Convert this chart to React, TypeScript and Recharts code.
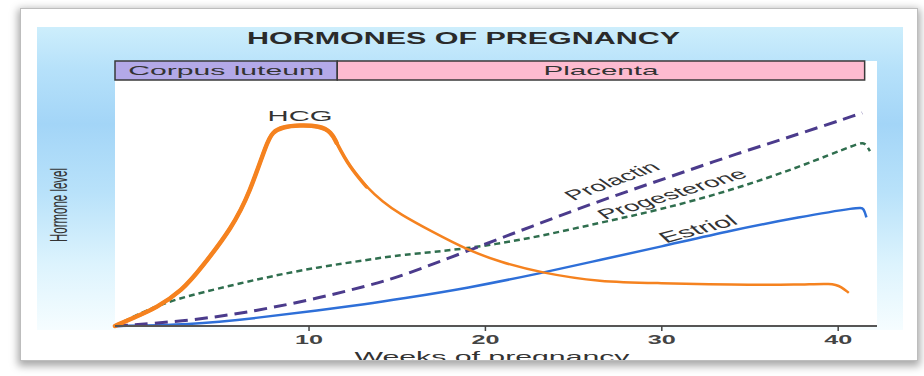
import React from "react";
import {
  LineChart,
  Line,
  XAxis,
  YAxis,
  CartesianGrid,
  ReferenceArea,
  ReferenceDot,
} from "recharts";

const FONT = '"Liberation Sans", Arial, Helvetica, sans-serif';

// weeks of pregnancy vs relative hormone level (0-100, no units on the original)
const weekTicks = [10, 20, 30, 40];

const hcgWeeks = [-1, 0, 1.36, 2.83, 3.8, 5.67, 6.63, 7.6, 7.93, 8.5, 9.46, 10.6, 11.27, 11.56, 12.3, 13.26, 14.16, 15.13, 17.0, 18.98, 20.8, 23.2, 26.46, 29.86, 34.0, 37.8, 39.66, 40.2, 40.6];
const hcgLevels = [0, 3.0, 6.8, 13.6, 21.1, 37.4, 50.2, 69.1, 73.2, 75.1, 75.8, 75.5, 73.2, 69.1, 60.0, 52.5, 46.9, 42.3, 35.5, 28.7, 24.2, 20.0, 16.6, 16.2, 15.5, 15.5, 16.2, 14.7, 12.5];
// the HCG stroke is heavy over its peak and thins out on the way down
const hcgHeavyUntil = 11.56;
const hcgMediumUntil = 13.26;

const prolactinWeeks = [-1, 3.23, 7.03, 10.6, 13.26, 15.13, 18.98, 22.66, 26.46, 30.25, 34.0, 37.8, 41.36];
const prolactinLevels = [0, 1.9, 5.7, 10.6, 15.1, 18.5, 28.3, 37.7, 47.2, 55.8, 64.5, 72.5, 80.4];

const progesteroneWeeks = [-1, 1.36, 3.8, 7.6, 10.6, 13.26, 15.13, 18.98, 22.66, 26.46, 29.86, 34.0, 37.8, 41.2, 41.5, 41.8];
const progesteroneLevels = [0, 8.0, 12.5, 18.5, 22.3, 24.9, 26.8, 29.1, 33.2, 38.9, 43.8, 51.3, 60.0, 69.1, 69.3, 66.0];

const estriolWeeks = [-1, 3.23, 7.03, 10.6, 13.26, 15.13, 18.98, 23.2, 26.46, 29.86, 34.0, 37.8, 41.2, 41.45, 41.6];
const estriolLevels = [0, 0.4, 3.0, 6.0, 8.3, 10.2, 14.3, 20.0, 24.9, 29.8, 36.2, 41.1, 44.9, 44.5, 41.0];

const stageNames = ["Corpus luteum", "Placenta"];
const stageStarts = [-1, 11.6];
const stageEnds = [11.6, 41.5];

const toRows = (weeks: number[], levels: number[]) =>
  weeks.map((week, i) => ({ week, level: levels[i] }));

const hcg = toRows(hcgWeeks, hcgLevels);
const hcgHeavy = hcg.filter((r) => r.week <= hcgHeavyUntil);
const hcgMedium = hcg.filter((r) => r.week <= hcgMediumUntil);
const prolactin = toRows(prolactinWeeks, prolactinLevels);
const progesterone = toRows(progesteroneWeeks, progesteroneLevels);
const estriol = toRows(estriolWeeks, estriolLevels);

const stageFill = ["#b3a9e8", "#fdbbd0"];
const stageTextLength = [196, 115];

// where the curve names sit, with their tilt (the picture is stretched sideways)
const curveLabels = [
  { text: "Prolactin", week: 27.18, level: 54.7, angle: -36, size: 14 },
  { text: "Progesterone", week: 30.58, level: 49.8, angle: -31, size: 14 },
  { text: "Estriol", week: 32.05, level: 36.6, angle: -28, size: 15 },
];

function centerOf(vb: any) {
  return { cx: vb.x + (vb.width || 0) / 2, cy: vb.y + (vb.height || 0) / 2 };
}

function tiltedLabel(text: string, angle: number, size: number) {
  return (props: any) => {
    const { cx, cy } = centerOf(props.viewBox);
    return (
      <text
        transform={`translate(${cx},${cy}) scale(2,1) rotate(${angle})`}
        textAnchor="middle"
        dominantBaseline="central"
        fontSize={size}
        fontFamily={FONT}
        fill="#333"
      >
        {text}
      </text>
    );
  };
}

function stretchedLabel(text: string, size: number, length: number) {
  return (props: any) => {
    const { cx, cy } = centerOf(props.viewBox);
    return (
      <text
        x={cx}
        y={cy}
        textAnchor="middle"
        dominantBaseline="central"
        fontSize={size}
        fontFamily={FONT}
        fill="#333"
        textLength={length}
        lengthAdjust="spacingAndGlyphs"
      >
        {text}
      </text>
    );
  };
}

function WeekTick({ x, y, payload }: any) {
  return (
    <text
      x={x}
      y={y + 6}
      textAnchor="middle"
      dominantBaseline="central"
      fontSize={13}
      fontWeight="bold"
      fontFamily={FONT}
      fill="#444"
      textLength={28}
      lengthAdjust="spacingAndGlyphs"
    >
      {payload.value}
    </text>
  );
}

function weeksLabel(props: any) {
  const vb = props.viewBox;
  return (
    <text
      x={vb.x + vb.width / 2 - 4}
      y={vb.y + 36}
      textAnchor="middle"
      fontSize={14}
      fontFamily={FONT}
      fill="#333"
      textLength={275}
      lengthAdjust="spacingAndGlyphs"
    >
      Weeks of pregnancy
    </text>
  );
}

const hcgLine = {
  dataKey: "level",
  type: "basis" as const,
  stroke: "#f5821f",
  dot: false,
  activeDot: false,
  isAnimationActive: false,
};

export default function App() {
  return (
    <div
      style={{
        position: "absolute",
        left: 0,
        top: 0,
        width: 924,
        height: 376,
        background: "#fff",
        overflow: "hidden",
      }}
    >
      <div
        style={{
          position: "absolute",
          left: 20,
          top: 8,
          width: 896,
          height: 351,
          border: "1px solid #bdbdbd",
          boxShadow: "0 3px 8px 2px rgba(0,0,0,0.35)",
          background: "#fff",
          overflow: "hidden",
        }}
      >
        <div
          style={{
            position: "absolute",
            left: 16,
            top: 18,
            width: 866,
            height: 303,
            background:
              "linear-gradient(to bottom, #cdeefc 0%, #b6e1fa 14%, #a3d5f7 32%, #b9e2fa 55%, #dcf3fd 78%, #f6fdff 100%)",
          }}
        />
        <div style={{ position: "absolute", left: -21, top: -9 }}>
          <LineChart
            width={924}
            height={376}
            margin={{ top: 61, right: 47, bottom: 20, left: 115 }}
          >
            <CartesianGrid fill="#fff" horizontal={false} vertical={false} />
            <XAxis
              type="number"
              dataKey="week"
              domain={[-1, 42.2]}
              ticks={weekTicks}
              interval={0}
              tickSize={5}
              tickLine={{ stroke: "#444", strokeWidth: 1.5 }}
              axisLine={{ stroke: "#555", strokeWidth: 2 }}
              tick={<WeekTick />}
              height={30}
              label={weeksLabel}
            />
            <YAxis
              type="number"
              domain={[0, 100]}
              width={0}
              tick={false}
              tickLine={false}
              axisLine={{ stroke: "#222", strokeWidth: 2.5 }}
            />
            {stageNames.map((name, i) => (
              <ReferenceArea
                key={name}
                x1={stageStarts[i]}
                x2={stageEnds[i]}
                y1={92.8}
                y2={100}
                fill={stageFill[i]}
                fillOpacity={1}
                stroke="#3a3a3a"
                strokeWidth={1.5}
                ifOverflow="visible"
                label={stretchedLabel(name, 13, stageTextLength[i])}
              />
            ))}
            <Line
              data={estriol}
              dataKey="level"
              type="basis"
              stroke="#2e6fd8"
              strokeWidth={2.5}
              dot={false}
              activeDot={false}
              isAnimationActive={false}
            />
            <Line
              data={progesterone}
              dataKey="level"
              type="basis"
              stroke="#2f6e4e"
              strokeWidth={2.5}
              strokeDasharray="6 4"
              dot={false}
              activeDot={false}
              isAnimationActive={false}
            />
            <Line
              data={prolactin}
              dataKey="level"
              type="basis"
              stroke="#4b3b8c"
              strokeWidth={3}
              strokeDasharray="13 7"
              dot={false}
              activeDot={false}
              isAnimationActive={false}
            />
            <Line data={hcg} strokeWidth={2.5} {...hcgLine} />
            <Line data={hcgMedium} strokeWidth={3.5} strokeLinecap="round" {...hcgLine} />
            <Line data={hcgHeavy} strokeWidth={4.5} strokeLinecap="round" {...hcgLine} />
            {curveLabels.map((c) => (
              <ReferenceDot
                key={c.text}
                x={c.week}
                y={c.level}
                r={1}
                fill="none"
                stroke="none"
                label={tiltedLabel(c.text, c.angle, c.size)}
              />
            ))}
            <ReferenceDot
              x={9.49}
              y={79.2}
              r={1}
              fill="none"
              stroke="none"
              label={stretchedLabel("HCG", 14, 65)}
            />
          </LineChart>
        </div>
        <svg
          width={924}
          height={376}
          style={{ position: "absolute", left: -21, top: -9, pointerEvents: "none" }}
        >
          <text
            x={463.5}
            y={38}
            textAnchor="middle"
            dominantBaseline="central"
            fontSize={16}
            fontWeight="bold"
            fontFamily={FONT}
            fill="#2a2a2a"
            textLength={433}
            lengthAdjust="spacingAndGlyphs"
          >
            HORMONES OF PREGNANCY
          </text>
          <text
            transform="translate(59,205) scale(2,1) rotate(-90)"
            textAnchor="middle"
            dominantBaseline="central"
            fontSize={11.5}
            fontFamily={FONT}
            fill="#333"
          >
            Hormone level
          </text>
        </svg>
      </div>
    </div>
  );
}
